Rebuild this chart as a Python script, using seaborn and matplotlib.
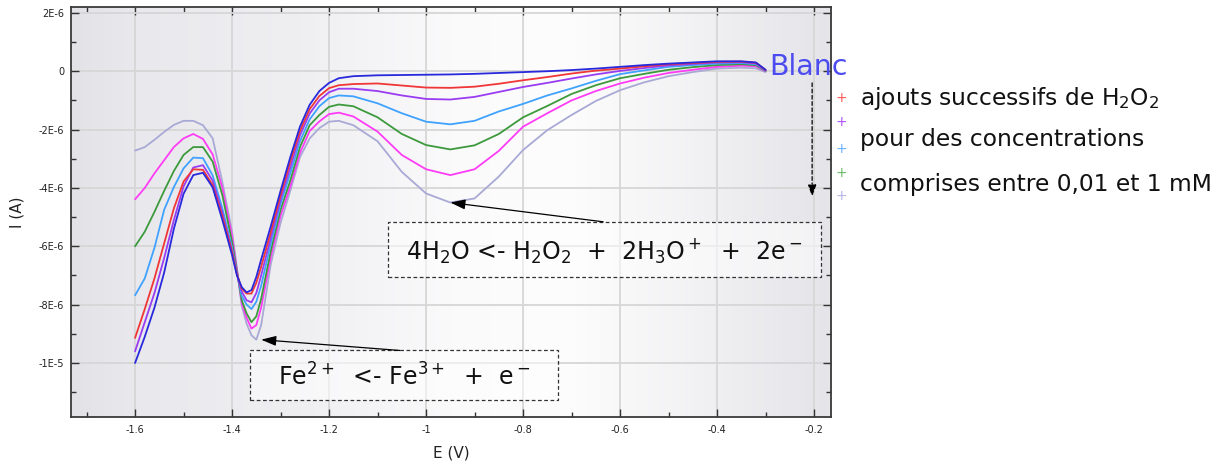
import numpy as np
import pandas as pd
import seaborn as sns
import matplotlib.pyplot as plt
from matplotlib.colors import LinearSegmentedColormap
from matplotlib.patches import Rectangle
from matplotlib.ticker import MultipleLocator

# potential (V)
E_V = [-1.60, -1.58, -1.56, -1.54, -1.52, -1.50, -1.48, -1.46, -1.44, -1.42, -1.40,
       -1.39, -1.38, -1.37, -1.36, -1.35, -1.34,
       -1.32, -1.30, -1.28, -1.26, -1.24, -1.22, -1.20, -1.18,
       -1.15, -1.10, -1.05, -1.00, -0.95, -0.90, -0.85, -0.80, -0.75, -0.70, -0.65,
       -0.60, -0.55, -0.50, -0.45, -0.40, -0.35, -0.32, -0.30]

# currents, in µA
I_blanc = [-10.0, -9.1, -8.1, -6.9, -5.4, -4.2, -3.56, -3.48, -3.98, -5.1, -6.3,
           -7.0, -7.4, -7.58, -7.5, -7.05, -6.45,
           -5.3, -4.1, -2.95, -1.9, -1.15, -0.68, -0.4, -0.24,
           -0.17, -0.14, -0.13, -0.12, -0.11, -0.09, -0.06, -0.03, 0.0, 0.04, 0.09,
           0.15, 0.21, 0.26, 0.30, 0.34, 0.34, 0.30, 0.05]
I_rouge = [-9.14, -8.15, -7.1, -5.9, -4.7, -3.78, -3.36, -3.38, -3.9, -4.98, -6.2,
           -6.95, -7.45, -7.62, -7.62, -7.25, -6.7,
           -5.5, -4.25, -3.1, -2.05, -1.3, -0.85, -0.58, -0.48,
           -0.44, -0.42, -0.49, -0.56, -0.57, -0.53, -0.43, -0.31, -0.2, -0.08, 0.02,
           0.09, 0.17, 0.24, 0.28, 0.32, 0.33, 0.29, 0.04]
I_violet = [-9.6, -8.6, -7.6, -6.4, -5.1, -3.95, -3.3, -3.22, -3.75, -4.85, -6.15,
            -6.95, -7.55, -7.85, -7.92, -7.6, -7.0,
            -5.7, -4.4, -3.3, -2.2, -1.45, -1.0, -0.72, -0.6,
            -0.6, -0.68, -0.83, -0.95, -0.97, -0.88, -0.71, -0.54, -0.40, -0.25, -0.11,
            0.01, 0.11, 0.20, 0.25, 0.30, 0.31, 0.27, 0.03]
I_bleu = [-7.68, -7.1, -6.05, -4.75, -3.97, -3.33, -2.96, -2.98, -3.57, -4.7, -6.05,
          -6.9, -7.7, -8.0, -8.15, -7.9, -7.35,
          -5.9, -4.55, -3.5, -2.4, -1.65, -1.2, -0.92, -0.83,
          -0.86, -1.1, -1.44, -1.73, -1.82, -1.70, -1.38, -1.12, -0.83, -0.59, -0.33,
          -0.10, 0.03, 0.15, 0.21, 0.26, 0.28, 0.24, 0.02]
I_vert = [-6.0, -5.5, -4.82, -4.1, -3.42, -2.87, -2.6, -2.6, -3.1, -4.25, -5.85,
          -6.85, -7.85, -8.3, -8.6, -8.4, -7.8,
          -6.15, -4.75, -3.75, -2.6, -1.85, -1.5, -1.22, -1.14,
          -1.2, -1.58, -2.15, -2.53, -2.68, -2.54, -2.15, -1.58, -1.19, -0.78, -0.48,
          -0.24, -0.09, 0.05, 0.14, 0.21, 0.24, 0.21, 0.01]
I_magenta = [-4.39, -4.0, -3.5, -3.05, -2.6, -2.3, -2.15, -2.32, -2.85, -4.0, -5.65,
             -6.8, -7.95, -8.45, -8.82, -8.7, -8.1,
             -6.35, -4.95, -3.95, -2.8, -2.05, -1.72, -1.47, -1.42,
             -1.55, -2.07, -2.87, -3.36, -3.56, -3.36, -2.73, -1.90, -1.44, -1.0, -0.68,
             -0.42, -0.22, -0.06, 0.05, 0.15, 0.19, 0.17, 0.0]
I_lavande = [-2.72, -2.6, -2.35, -2.08, -1.84, -1.7, -1.7, -1.85, -2.3, -3.8, -5.5,
             -6.75, -8.05, -8.65, -9.05, -9.2, -8.7,
             -6.6, -5.2, -4.1, -2.95, -2.3, -1.95, -1.73, -1.7,
             -1.85, -2.4, -3.45, -4.19, -4.5, -4.36, -3.61, -2.70, -2.02, -1.5, -1.02,
             -0.65, -0.38, -0.17, -0.03, 0.09, 0.12, 0.10, -0.03]

series = {
    'lavande': I_lavande,
    'magenta': I_magenta,
    'vert': I_vert,
    'bleu': I_bleu,
    'violet': I_violet,
    'rouge': I_rouge,
    'blanc': I_blanc,
}
palette = {
    'lavande': '#a9a9d6',
    'magenta': '#ff3cf5',
    'vert': '#3c9a3c',
    'bleu': '#3fa2ff',
    'violet': '#9a3cf2',
    'rouge': '#f03636',
    'blanc': '#2828dc',
}

x_ticks = [-1.6, -1.4, -1.2, -1.0, -0.8, -0.6, -0.4, -0.2]
x_labels = ['-1.6', '-1.4', '-1.2', '-1', '-0.8', '-0.6', '-0.4', '-0.2']
y_ticks = [2e-6, 0, -2e-6, -4e-6, -6e-6, -8e-6, -1e-5]
y_labels = ['2E-6', '0', '-2E-6', '-4E-6', '-6E-6', '-8E-6', '-1E-5']

legend_lines = ['ajouts successifs de H$_2$O$_2$', 'pour des concentrations',
                'comprises entre 0,01 et 1 mM']
legend_colors = ['#ff5a5a', '#b050ff', '#66b2ff', '#6ab86a', '#b4b4e6']

frames = []
for name, vals in series.items():
    frames.append(pd.DataFrame({'E': E_V, 'I': np.array(vals) * 1e-6, 'serie': name}))
df = pd.concat(frames, ignore_index=True)

sns.set_style('ticks')
plt.rcParams['font.family'] = ['DejaVu Sans']
plt.rcParams['axes.unicode_minus'] = False

fig = plt.figure(figsize=(12.29, 4.65), dpi=100)
ax = fig.add_axes([0.0578, 0.1032, 0.6184, 0.8817])

# grey gradient background of the plot area
bg = LinearSegmentedColormap.from_list('bg', [
    (0.0, '#e2e2e7'), (0.08, '#e9e9ed'), (0.3, '#efeff2'), (0.5, '#fafafb'),
    (0.65, '#fdfdfd'), (0.82, '#f2f2f4'), (1.0, '#e4e4e9')])
ax.imshow(np.linspace(0, 1, 256).reshape(1, -1), cmap=bg, aspect='auto',
          extent=[0, 1, 0, 1], transform=ax.transAxes, zorder=0)

sns.lineplot(data=df, x='E', y='I', hue='serie', hue_order=list(series.keys()),
             palette=palette, estimator=None, sort=False, legend=False,
             linewidth=1.3, ax=ax, zorder=3)

ax.set_xlim(-1.732, -0.165)
ax.set_ylim(-1.185e-5, 2.2e-6)
ax.set_xticks(x_ticks, x_labels)
ax.set_yticks(y_ticks, y_labels)
ax.xaxis.set_minor_locator(MultipleLocator(0.1))
ax.yaxis.set_minor_locator(MultipleLocator(1e-6))
ax.tick_params(which='both', direction='in', top=True, right=True, colors='#333333',
               labelsize=7, labelcolor='#222222')
ax.tick_params(which='major', length=6, width=1)
ax.tick_params(which='minor', length=3.5, width=1)
ax.tick_params(axis='x', pad=6)
ax.tick_params(axis='y', pad=5)
ax.grid(True, which='major', color='#d6d6d6', linewidth=1.3)
ax.set_axisbelow(True)
for s in ax.spines.values():
    s.set_color('#3a3a3a')
    s.set_linewidth(1.3)

ax.set_xlabel('E (V)', fontsize=11, labelpad=7, color='#222222')
ax.set_ylabel('I (A)', fontsize=11, labelpad=10, color='#222222')

# reaction boxes
ax.add_patch(Rectangle((0.417, 0.341), 0.570, 0.135, transform=ax.transAxes,
                       facecolor='white', alpha=0.55, edgecolor='none', zorder=4))
ax.add_patch(Rectangle((0.417, 0.341), 0.570, 0.135, transform=ax.transAxes,
                       facecolor='none', edgecolor='#333333', linestyle=(0, (3, 2)),
                       linewidth=0.9, zorder=5))
ax.text(0.702, 0.405, r'4H$_2$O <- H$_2$O$_2$  +  2H$_3$O$^+$  +  2e$^-$',
        transform=ax.transAxes, ha='center', va='center', fontsize=17,
        color='#111111', zorder=6)

ax.add_patch(Rectangle((0.2355, 0.0415), 0.4055, 0.122, transform=ax.transAxes,
                       facecolor='white', alpha=0.55, edgecolor='none', zorder=4))
ax.add_patch(Rectangle((0.2355, 0.0415), 0.4055, 0.122, transform=ax.transAxes,
                       facecolor='none', edgecolor='#333333', linestyle=(0, (3, 2)),
                       linewidth=0.9, zorder=5))
ax.text(0.438, 0.097, r'Fe$^{2+}$  <- Fe$^{3+}$  +  e$^-$', transform=ax.transAxes,
        ha='center', va='center', fontsize=17, color='#111111', zorder=6)

# arrows pointing at the minima of the last addition
E_arr = np.array(E_V)
I_arr = np.array(I_lavande)
right = E_arr > -1.2
k1 = np.argmin(np.where(right, I_arr, 0))
k2 = np.argmin(np.where(~right, I_arr, 0))
ax.annotate('', xy=(E_arr[k1], I_arr[k1] * 1e-6), xytext=(-0.635, -5.16e-6),
            arrowprops=dict(arrowstyle='-|>,head_length=0.9,head_width=0.3',
                            color='black', lw=0.9, shrinkA=0, shrinkB=0), zorder=7)
ax.annotate('', xy=(E_arr[k2] + 0.01, I_arr[k2] * 1e-6), xytext=(-1.054, -9.57e-6),
            arrowprops=dict(arrowstyle='-|>,head_length=0.9,head_width=0.3',
                            color='black', lw=0.9, shrinkA=0, shrinkB=0), zorder=7)

# "Blanc" label and dashed arrow
ax.text(-0.292, 0.15e-6, 'Blanc', fontsize=20.5, color='#4b4bef', ha='left', va='center',
        clip_on=False, zorder=7)
ax.annotate('', xy=(-0.204, -4.3e-6), xytext=(-0.204, -0.4e-6),
            arrowprops=dict(arrowstyle='-|>,head_length=0.7,head_width=0.25',
                            color='black', lw=0.9, linestyle=(0, (3, 2)),
                            shrinkA=0, shrinkB=0), zorder=7)

# legend-like text on the right
for txt, y in zip(legend_lines, [0.789, 0.699, 0.604]):
    fig.text(0.6998, y, txt, fontsize=16.8, color='#111111', ha='left', va='center')
for c, y in zip(legend_colors, [0.789, 0.738, 0.680, 0.628, 0.578]):
    fig.text(0.6843, y, '+', fontsize=10, color=c, ha='center', va='center')

fig.savefig('out.png', dpi=100)
